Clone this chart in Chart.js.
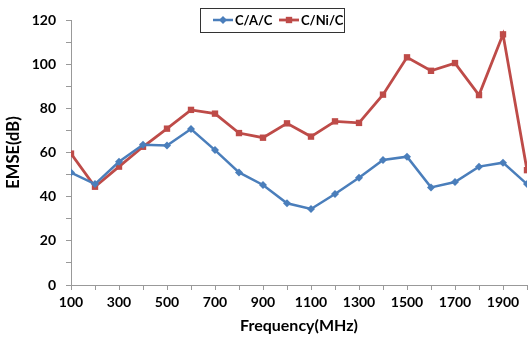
<!DOCTYPE html>
<html>
<head>
<meta charset="utf-8">
<script src="https://cdn.jsdelivr.net/npm/chart.js@4"></script>
<style>
  html, body { margin: 0; padding: 0; background: #fff; }
  #wrap { width: 532px; height: 339px; }
</style>
</head>
<body>
<div id="wrap"><canvas id="emseChart" width="532" height="339"></canvas></div>
<script>
const freqs = [100, 200, 300, 400, 500, 600, 700, 800, 900, 1000,
  1100, 1200, 1300, 1400, 1500, 1600, 1700, 1800, 1900, 2000];
const cacValues = [50.9, 45.7, 55.8, 63.5, 63.2, 70.6, 61.1, 51.0, 45.3, 37.0,
  34.4, 41.2, 48.6, 56.6, 58.1, 44.2, 46.6, 53.6, 55.4, 45.7];
const cniValues = [59.5, 44.5, 53.6, 62.6, 70.8, 79.3, 77.6, 68.8, 66.7, 73.2,
  67.2, 74.1, 73.4, 86.2, 103.1, 97.0, 100.5, 86.0, 113.5, 52.0];
const xLabels = [100, 300, 500, 700, 900, 1100, 1300, 1500, 1700, 1900];
const yLabels = [0, 20, 40, 60, 80, 100, 120];

const blue = "#4A7EBB";
const red = "#BE4B48";
const font = "Lato";

const toPoints = (vals) => vals.map((v, i) => ({ x: freqs[i], y: v }));

// legend with a frame, drawn over the top of the plot like the original
const boxedLegend = {
  id: "boxedLegend",
  afterDraw(chart) {
    const ctx = chart.ctx;
    ctx.save();
    ctx.fillStyle = "#fff";
    ctx.fillRect(200, 8, 144, 24);
    ctx.strokeStyle = "#333";
    ctx.lineWidth = 1;
    ctx.strokeRect(200.5, 8.5, 144, 24);
    const items = [
      { ds: chart.data.datasets[0], x: 213, text: "C/A/C" },
      { ds: chart.data.datasets[1], x: 279, text: "C/Ni/C" },
    ];
    ctx.font = "bold 13px " + font;
    ctx.textBaseline = "middle";
    items.forEach((it) => {
      ctx.strokeStyle = it.ds.borderColor;
      ctx.lineWidth = it.ds.borderWidth;
      ctx.beginPath();
      ctx.moveTo(it.x, 20);
      ctx.lineTo(it.x + 20, 20);
      ctx.stroke();
      ctx.fillStyle = it.ds.pointBackgroundColor;
      Chart.helpers.drawPoint(ctx, {
        pointStyle: it.ds.pointStyle,
        radius: it.ds.pointRadius,
        borderWidth: 0,
      }, it.x + 10, 20);
      ctx.fillStyle = "#000";
      ctx.fillText(it.text, it.x + 22, 20.5);
    });
    ctx.restore();
  },
};

new Chart(document.getElementById("emseChart"), {
  type: "line",
  data: {
    datasets: [
      {
        label: "C/A/C",
        data: toPoints(cacValues),
        borderColor: blue,
        backgroundColor: blue,
        pointBackgroundColor: blue,
        pointBorderWidth: 0,
        borderWidth: 2.5,
        pointStyle: "rectRot",
        pointRadius: 4,
        tension: 0,
      },
      {
        label: "C/Ni/C",
        data: toPoints(cniValues),
        borderColor: red,
        backgroundColor: red,
        pointBackgroundColor: red,
        pointBorderWidth: 0,
        borderWidth: 2.8,
        pointStyle: "rect",
        pointRadius: 4.5,
        tension: 0,
      },
    ],
  },
  options: {
    responsive: false,
    animation: false,
    layout: { padding: { top: 20, right: 5, left: 0, bottom: 0 } },
    plugins: {
      legend: { display: false },
      tooltip: { enabled: false },
    },
    scales: {
      x: {
        type: "linear",
        min: 100,
        max: 2000,
        afterFit: (scale) => { scale.height = 54; },
        afterBuildTicks: (scale) => {
          scale.ticks = freqs.map((f) => ({ value: f }));
        },
        ticks: {
          autoSkip: false,
          maxRotation: 0,
          padding: 4,
          color: "#000",
          font: { family: font, size: 14, weight: "bold" },
          callback: (v) => (xLabels.includes(v) ? String(v) : ""),
        },
        grid: {
          drawOnChartArea: false,
          tickLength: 5,
          color: "#999",
        },
        border: { color: "#999", width: 1 },
        title: {
          display: true,
          text: "Frequency(MHz)",
          color: "#000",
          font: { family: font, size: 16, weight: "bold" },
          padding: { top: 2 },
        },
      },
      y: {
        min: 0,
        max: 120,
        afterFit: (scale) => { scale.width = 71; },
        ticks: {
          stepSize: 10,
          padding: 10,
          color: "#000",
          font: { family: font, size: 14, weight: "bold" },
          callback: (v) => (yLabels.includes(v) ? String(v) : ""),
        },
        grid: {
          drawOnChartArea: false,
          tickLength: 5,
          color: "#999",
        },
        border: { color: "#999", width: 1 },
        title: {
          display: true,
          text: "EMSE(dB)",
          color: "#000",
          font: { family: font, size: 16.5, weight: "bold" },
          padding: { top: 4, bottom: 2 },
        },
      },
    },
  },
  plugins: [boxedLegend],
});
</script>
</body>
</html>
